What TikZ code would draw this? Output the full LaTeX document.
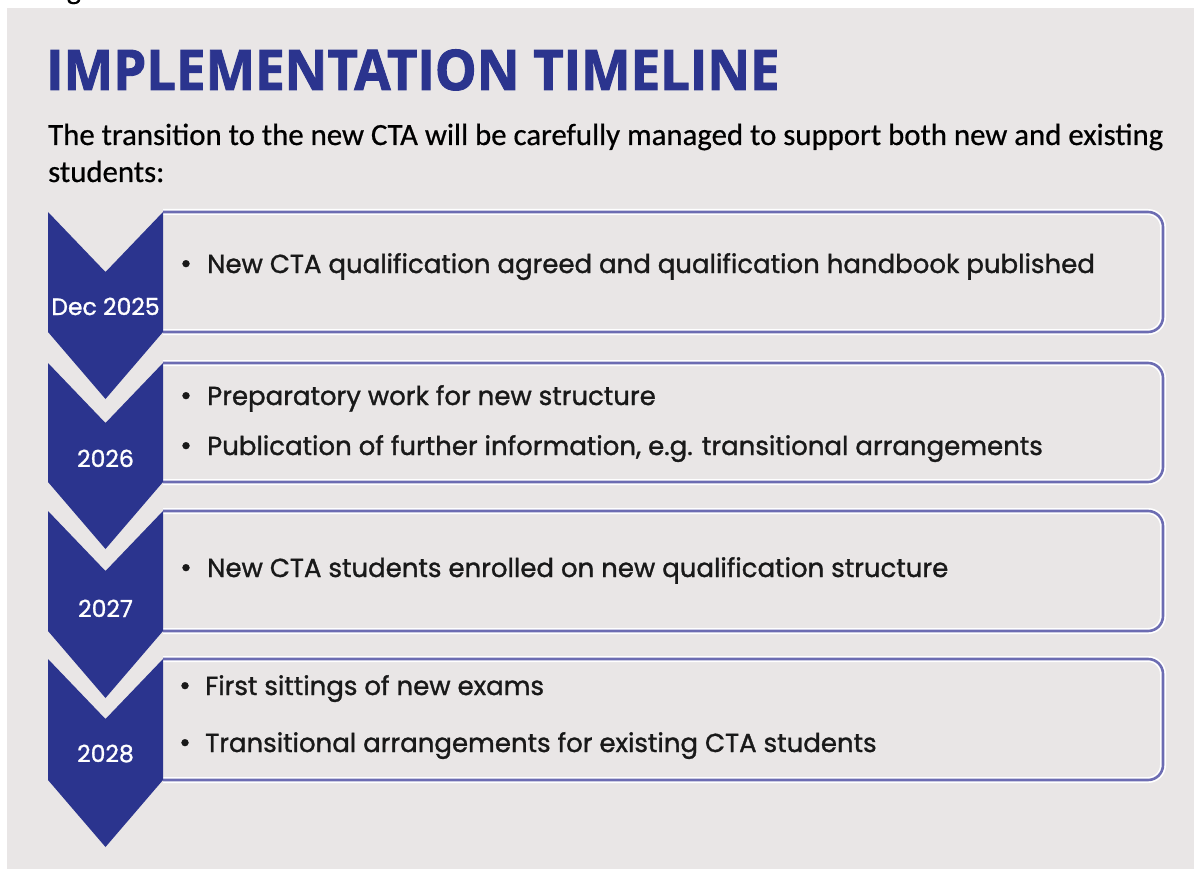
\documentclass[tikz,border=0pt]{standalone}
\usepackage{fontspec}
\setmainfont{Poppins}
\newfontfamily\titlefont{Open Sans}[FakeStretch=0.94, FakeBold=1.6]
\newfontfamily\leadfont{Carlito}[FakeBold=0.6]
\newfontfamily\bodyfont{Poppins}[FakeBold=1.2]
\definecolor{panel}{RGB}{233,230,230}
\definecolor{navy}{RGB}{43,52,142}
\definecolor{boxline}{RGB}{108,108,178}
\tikzset{
  chevron/.style={fill=navy},
  boxhalo/.style={draw=white, line width=6pt, rounded corners=15pt},
  boxedge/.style={draw=boxline, line width=2.6pt, rounded corners=15pt},
  yearlabel/.style={text=white, inner sep=0, anchor=base, font=\bodyfont\fontsize{23.5}{25}\selectfont},
  item/.style={inner sep=0, anchor=base west, text=black!90, font=\bodyfont\fontsize{26}{26}\selectfont},
  dot/.style={inner sep=0, anchor=base, text=black!90, font=\bodyfont\fontsize{28}{26}\selectfont},
}
\begin{document}
\begin{tikzpicture}[x=1pt,y=-1pt]
\useasboundingbox (0,0) rectangle (1194,869);
\clip (0,0) rectangle (1194,869);
\fill[white] (0,0) rectangle (1194,869);
\fill[panel] (7,8) rectangle (1194,869);
\node[anchor=base west, inner sep=0, font=\leadfont\fontsize{30}{30}\selectfont] (fig) at (46,-1) {Figure};
% heading
\node[anchor=base west, inner sep=0, text=navy, font=\titlefont\bfseries\fontsize{56}{56}\selectfont] (title) at (46,90) {IMPLEMENTATION TIMELINE};
\node[anchor=base west, inner sep=0, font=\leadfont\fontsize{30.8}{30}\selectfont] (lead1) at (48,145) {The transition to the new CTA will be carefully managed to support both new and existing};
\node[anchor=base west, inner sep=0, font=\leadfont\fontsize{30.8}{30}\selectfont] (lead2) at (48,182) {students:};
% stages: box top / box bottom / year / year baseline
\foreach \t/\b/\yr/\yb/\n in {212/332/Dec 2025/315/1, 363/482/2026/467/2, 511/631/2027/617/3, 659/780/2028/762/4}{
  \path[boxhalo] (163,\t) -- (1163,\t) -- (1163,\b) -- (163,\b);
  \path[boxedge] (163,\t) -- (1163,\t) -- (1163,\b) -- (163,\b);
  \fill[chevron] (48,\t) -- (105.5,\t+60) -- (163,\t) -- (163,\b) -- (105.5,\b+67) -- (48,\b) -- cycle;
  \node[yearlabel] (year\n) at (105.5,\yb) {\yr};
}
% stage items
\node[dot] (d1) at (186,273) {•};
\node[item] (t1) at (207,273) {New CTA qualification agreed and qualification handbook published};
\node[dot] (d2a) at (186,405) {•};
\node[item] (t2a) at (207,405) {Preparatory work for new structure};
\node[dot] (d2b) at (186,455) {•};
\node[item] (t2b) at (207,455) {Publication of further information, e.g. transitional arrangements};
\node[dot] (d3) at (186,577) {•};
\node[item] (t3) at (207,577) {New CTA students enrolled on new qualification structure};
\node[dot] (d4a) at (185,695) {•};
\node[item] (t4a) at (205,695) {First sittings of new exams};
\node[dot] (d4b) at (185,752) {•};
\node[item] (t4b) at (205,752) {Transitional arrangements for existing CTA students};
\end{tikzpicture}
\end{document}
